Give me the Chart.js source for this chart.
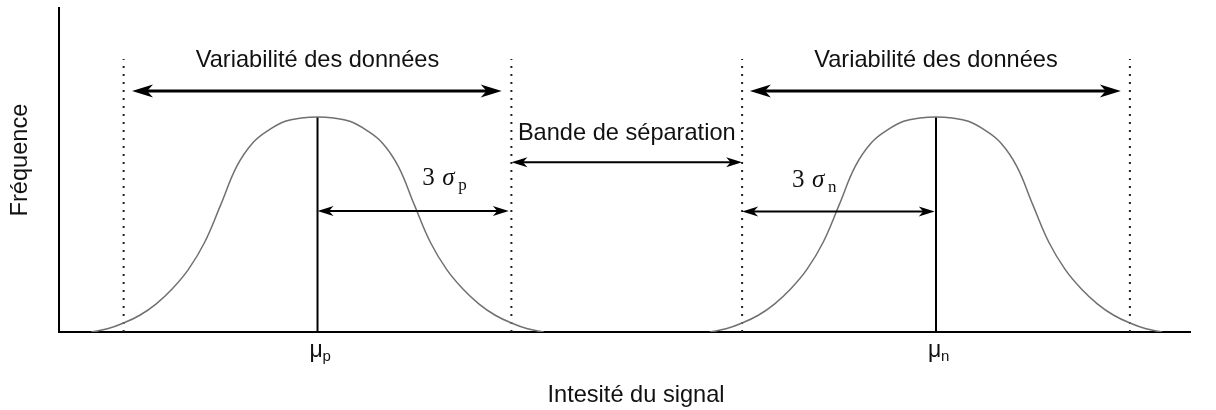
<!DOCTYPE html>
<html>
<head>
<meta charset="utf-8">
<script src="https://cdn.jsdelivr.net/npm/chart.js@4/dist/chart.umd.min.js"></script>
<style>
  html, body { margin: 0; padding: 0; background: #fff; }
  canvas { display: block; }
</style>
</head>
<body>
<canvas id="chart" width="1216" height="410"></canvas>
<script>
// values (x in sigma units, y relative to peak)
const muP = 4.0;
const muN = 13.57;
const peak = 1;
const dottedTop = 1.27;
const intensityP = [0.5, 0.75, 1.0, 1.25, 1.5, 1.75, 2.0, 2.25, 2.5, 2.75, 3.0, 3.25, 3.5, 3.75, 4.0, 4.25, 4.5, 4.75, 5.0, 5.25, 5.5, 5.75, 6.0, 6.25, 6.5, 6.75, 7.0, 7.25, 7.5];
const intensityN = [10.07, 10.32, 10.57, 10.82, 11.07, 11.32, 11.57, 11.82, 12.07, 12.32, 12.57, 12.82, 13.07, 13.32, 13.57, 13.82, 14.07, 14.32, 14.57, 14.82, 15.07, 15.32, 15.57, 15.82, 16.07, 16.32, 16.57, 16.82, 17.07];
const frequency = [0, 0.015, 0.042, 0.078, 0.13, 0.2, 0.29, 0.415, 0.59, 0.77, 0.88, 0.94, 0.98, 0.995, 1, 0.995, 0.98, 0.94, 0.88, 0.77, 0.59, 0.415, 0.29, 0.2, 0.13, 0.078, 0.042, 0.015, 0];
const limitsP = [1.0, 7.0];
const limitsN = [10.57, 16.57];
const meanLabels = ['p', 'n'];

const SANS = '"Liberation Sans", Arial, sans-serif';
const SERIF = '"Liberation Serif", "DejaVu Serif", serif';

const toPoints = (xs, ys) => xs.map((x, i) => ({ x, y: ys[i] }));

function vline(x, top, dashed) {
  return {
    data: [{ x, y: 0 }, { x, y: top }],
    borderColor: dashed ? '#222' : '#000',
    borderWidth: 2,
    borderDash: dashed ? [2, 6] : [],
    pointRadius: 0,
    tension: 0
  };
}

// stealth-style arrowhead
function head(ctx, x, y, dir, len, half) {
  ctx.beginPath();
  ctx.moveTo(x, y);
  ctx.lineTo(x - dir * len, y - half);
  ctx.lineTo(x - dir * len * 0.72, y);
  ctx.lineTo(x - dir * len, y + half);
  ctx.closePath();
  ctx.fill();
}

function arrow(ctx, x1, x2, y, lw, len, half) {
  ctx.save();
  ctx.strokeStyle = '#000';
  ctx.fillStyle = '#000';
  ctx.lineWidth = lw;
  ctx.beginPath();
  ctx.moveTo(x1 + len * 0.6, y);
  ctx.lineTo(x2 - len * 0.6, y);
  ctx.stroke();
  head(ctx, x1, y, -1, len, half);
  head(ctx, x2, y, 1, len, half);
  ctx.restore();
}

const annotations = {
  id: 'annotations',
  afterDatasetsDraw(chart) {
    const { ctx, scales: { x, y }, chartArea } = chart;
    const px = v => x.getPixelForValue(v);
    const py = v => y.getPixelForValue(v);

    // big arrows over each distribution
    arrow(ctx, px(1.13), px(6.85), py(1.121), 3, 21, 6.5);
    arrow(ctx, px(10.69), px(16.43), py(1.121), 3, 21, 6.5);
    // separation band
    arrow(ctx, px(limitsP[1]), px(limitsN[0]), py(0.79), 2, 16, 5);
    // 3 sigma arrows
    arrow(ctx, px(muP), px(limitsP[1] - 0.04), py(0.563), 2, 16, 5);
    arrow(ctx, px(limitsN[0]), px(muN - 0.02), py(0.56), 2, 16, 5);

    ctx.save();
    ctx.fillStyle = '#111';
    ctx.textBaseline = 'alphabetic';
    ctx.font = '23.6px ' + SANS;
    ctx.textAlign = 'center';
    ctx.fillText('Variabilité des données', px(muP), py(1.233));
    ctx.fillText('Variabilité des données', px(muN), py(1.233));
    ctx.fillText('Bande de séparation', px((limitsP[1] + limitsN[0]) / 2), py(0.893));

    // 3 sigma labels
    const sigma = (x0, yb, sub) => {
      ctx.textAlign = 'left';
      ctx.font = '25px ' + SERIF;
      ctx.fillText('3', x0, yb);
      ctx.font = 'italic 25px ' + SERIF;
      ctx.fillText('σ', x0 + 20, yb);
      ctx.font = '17px ' + SERIF;
      ctx.fillText(sub, x0 + 36, yb + 5);
    };
    sigma(px(5.62), py(0.684), meanLabels[0]);
    sigma(px(11.34), py(0.674), meanLabels[1]);

    // mean labels under the axis
    const mu = (xp, sub) => {
      ctx.textAlign = 'left';
      ctx.font = '23px ' + SANS;
      ctx.fillText('μ', xp - 8, chartArea.bottom + 25);
      ctx.font = '15px ' + SANS;
      ctx.fillText(sub, xp + 5, chartArea.bottom + 29);
    };
    mu(px(muP), meanLabels[0]);
    mu(px(muN), meanLabels[1]);

    // axis titles
    ctx.font = '23.6px ' + SANS;
    ctx.textAlign = 'center';
    ctx.fillText('Intesité du signal', 636, chartArea.bottom + 70);
    ctx.translate(27, 160);
    ctx.rotate(-Math.PI / 2);
    ctx.fillText('Fréquence', 0, 0);
    ctx.restore();
  }
};

const curveStyle = {
  borderColor: '#707070',
  borderWidth: 1.5,
  pointRadius: 0,
  tension: 0.4
};

new Chart(document.getElementById('chart'), {
  type: 'line',
  data: {
    datasets: [
      Object.assign({ data: toPoints(intensityP, frequency) }, curveStyle),
      Object.assign({ data: toPoints(intensityN, frequency) }, curveStyle),
      vline(muP, peak, false),
      vline(muN, peak, false),
      vline(limitsP[0], dottedTop, true),
      vline(limitsP[1], dottedTop, true),
      vline(limitsN[0], dottedTop, true),
      vline(limitsN[1], dottedTop, true)
    ]
  },
  options: {
    responsive: false,
    devicePixelRatio: 1,
    animation: false,
    layout: { padding: { left: 59, right: 26, top: 8, bottom: 78 } },
    plugins: { legend: { display: false }, tooltip: { enabled: false } },
    scales: {
      x: {
        type: 'linear', min: 0, max: 17.5,
        grid: { display: false, drawTicks: false },
        ticks: { display: false },
        border: { display: true, color: '#000', width: 2 }
      },
      y: {
        type: 'linear', min: 0, max: 1.507,
        grid: { display: false, drawTicks: false },
        ticks: { display: false },
        border: { display: true, color: '#000', width: 2 }
      }
    }
  },
  plugins: [annotations]
});
</script>
</body>
</html>
